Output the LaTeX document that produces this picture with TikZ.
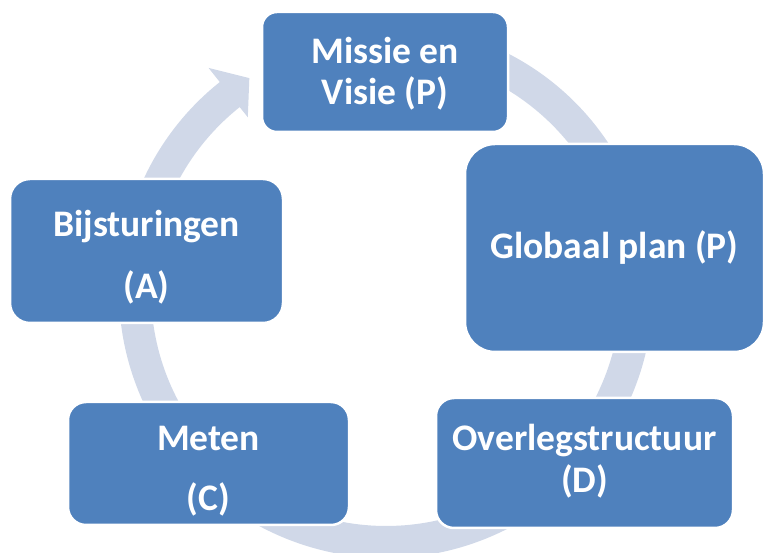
\documentclass[tikz,border=0pt]{standalone}
\usepackage{fontspec}
\setmainfont{Carlito}
\usetikzlibrary{calc}

\definecolor{boxblue}{HTML}{4F81BD}
\definecolor{ringgray}{HTML}{D0D8E8}

\tikzset{
    cyclebox/.style = {
        draw = white,
        line width = 2.5pt,
        fill = boxblue,
        text = white,
        align = center,
        inner sep = 0pt
    },
    boxlabel/.style = {
        text = white,
        align = center,
        inner sep = 0pt
    }
}

\begin{document}
\begin{tikzpicture}[x=1pt, y=1pt]

\useasboundingbox (0,0) rectangle (765,553);

% Ring arrow behind the boxes
\coordinate (ctr) at (386,262);
\fill[ringgray] ($(ctr)+(68:267)$) arc[start angle=68, end angle=-231.5, radius=267]
    -- ($(ctr)+(-231.5:285)$) -- ($(ctr)+(-237.3:253)$) -- ($(ctr)+(-231.5:222)$)
    -- ($(ctr)+(-231.5:235)$) arc[start angle=-231.5, end angle=68, radius=235] -- cycle;

% Boxes
\node[cyclebox, minimum width=246, minimum height=120, rounded corners=15pt,
      label={[boxlabel, yshift=-2pt, font=\fontsize{37.5}{41}\selectfont\bfseries]center:{Missie en\\Visie (P)}}]
      (missie) at (385,481) {};
\node[cyclebox, minimum width=299, minimum height=208, rounded corners=30pt,
      font=\fontsize{37.5}{41}\selectfont\bfseries] (globaal) at (614.5,305)
      {Globaal plan (P)};
\node[cyclebox, minimum width=273, minimum height=144, rounded corners=20pt,
      label={[boxlabel, yshift=-6pt, font=\fontsize{37.5}{62}\selectfont\bfseries]center:{Bijsturingen\\(A)}}]
      (bijsturing) at (146.5,302) {};
\node[cyclebox, minimum width=281, minimum height=123, rounded corners=18pt,
      label={[boxlabel, yshift=-8pt, font=\fontsize{37.5}{60}\selectfont\bfseries]center:{Meten\\(C)}}]
      (meten) at (208.5,89.5) {};
\node[cyclebox, minimum width=297, minimum height=130, rounded corners=18pt,
      label={[boxlabel, yshift=2pt, font=\fontsize{37.5}{42}\selectfont\bfseries]center:{Overlegstructuur\\(D)}}]
      (overleg) at (584.5,90) {};

\end{tikzpicture}
\end{document}
